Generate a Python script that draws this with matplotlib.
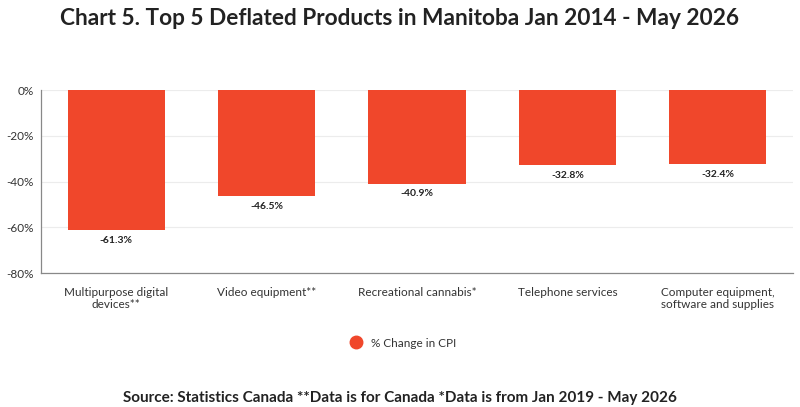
import matplotlib
matplotlib.use("Agg")
import matplotlib.pyplot as plt
from matplotlib.lines import Line2D

categories = ["Multipurpose digital\ndevices**", "Video equipment**", "Recreational cannabis*",
              "Telephone services", "Computer equipment,\nsoftware and supplies"]
values = [-61.3, -46.5, -40.9, -32.8, -32.4]
yticks = [0, -20, -40, -60, -80]
ytick_labels = ["0%", "-20%", "-40%", "-60%", "-80%"]
series_name = "% Change in CPI"
title = "Chart 5. Top 5 Deflated Products in Manitoba Jan 2014 - May 2026"
source = "Source: Statistics Canada **Data is for Canada *Data is from Jan 2019 - May 2026"

bar_color = "#F0472B"
plt.rcParams['font.family'] = ['Lato', 'DejaVu Sans']

fig = plt.figure(figsize=(8, 4.07), dpi=100)
ax = fig.add_axes([0.05125, 0.329, 0.94, 0.4496])
x = list(range(len(categories)))
ax.bar(x, values, width=0.645, color=bar_color, zorder=3)
ax.set_xlim(-0.5, len(categories) - 0.5)
ax.set_ylim(-80, 0)
ax.set_yticks(yticks)
ax.set_yticklabels(ytick_labels, fontsize=8.5, color="#333333")
ax.set_xticks(x)
ax.set_xticklabels(categories, fontsize=8.5, color="#333333", linespacing=1.15)
ax.tick_params(axis='both', length=0, pad=5)
ax.tick_params(axis='x', pad=10)
ax.grid(axis='y', color="#ececec", linewidth=0.8, zorder=0)
for s in ["top", "right"]:
    ax.spines[s].set_visible(False)
for s in ["left", "bottom"]:
    ax.spines[s].set_color("#888888")
    ax.spines[s].set_linewidth(0.9)

for xi, v in zip(x, values):
    ax.annotate(f"{v:.1f}%", (xi, v), xytext=(0, -4), textcoords="offset points",
                ha="center", va="top", fontsize=7.5, fontweight="bold", color="#222222")

fig.text(0.5, 0.955, title, ha="center", va="center", fontsize=16.3, fontweight="bold", color="#222222")
fig.text(0.5, 0.022, source, ha="center", va="center", fontsize=11, fontweight="bold", color="#222222")

handle = Line2D([], [], marker='o', linestyle='none', markersize=9, color=bar_color)
fig.legend([handle], [series_name], loc="center", bbox_to_anchor=(0.5, 0.157), frameon=False,
           fontsize=8.5, handletextpad=0.3, labelcolor="#333333")

fig.savefig("out.png", dpi=100)
